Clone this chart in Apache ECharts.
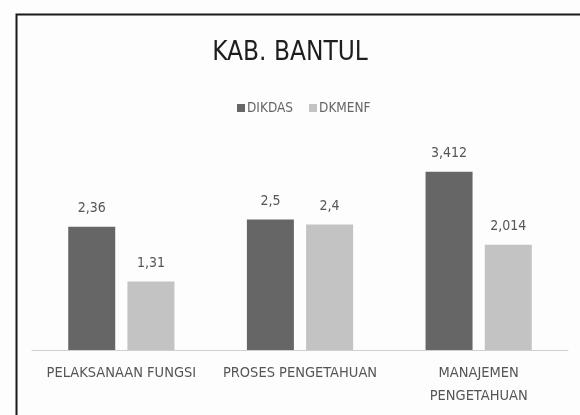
<!DOCTYPE html>
<html><head><meta charset="utf-8">
<script src="https://cdn.jsdelivr.net/npm/echarts@6/dist/echarts.min.js"></script>
<style>html,body{margin:0;padding:0;background:#fdfdfd}#c{width:580px;height:415px}</style>
</head><body><div id="c"></div>
<script>
var categories = ['PELAKSANAAN FUNGSI', 'PROSES PENGETAHUAN', 'MANAJEMEN\nPENGETAHUAN'];
var seriesNames = ['DIKDAS', 'DKMENF'];
var dikdas = [2.36, 2.5, 3.412];
var dkmenf = [1.31, 2.4, 2.014];
var titleText = 'KAB. BANTUL';

var FONT = '"Liberation Sans Narrow", "DejaVu Sans Condensed", "Liberation Sans", sans-serif';
function fmt(p){ return String(p.value).replace('.', ','); }

var chart = echarts.init(document.getElementById('c'), null, {renderer:'canvas'});
chart.setOption({
  backgroundColor: '#fdfdfd',
  animation: false,
  title: {
    text: titleText, left: 'center', top: 35,
    textStyle: {fontFamily: FONT, fontSize: 26, fontWeight: 'normal', color: '#1e1e1e'}
  },
  legend: {
    data: seriesNames, top: 96, left: 232,
    itemWidth: 8, itemHeight: 8, itemGap: 16, icon: 'rect',
    textStyle: {fontFamily: FONT, fontSize: 13.5, color: '#666', padding: [0,0,0,-3]}
  },
  grid: {left: 32, right: 12, top: 141, bottom: 65, containLabel: false},
  xAxis: {
    type: 'category', data: categories,
    axisLine: {show: true, lineStyle: {color: '#d0d0d0', width: 1}},
    axisTick: {show: false},
    axisLabel: {fontFamily: FONT, fontSize: 14.5, color: '#555', margin: 12, lineHeight: 23, interval: 0}
  },
  yAxis: {type: 'value', min: 0, max: 4, show: false, splitLine: {show: false}},
  series: [
    {name: seriesNames[0], type: 'bar', data: dikdas, barWidth: 47, barGap: '26%',
     itemStyle: {color: '#666666'},
     label: {show: true, position: 'top', distance: 11, formatter: fmt,
             fontFamily: FONT, fontSize: 14, color: '#555'}},
    {name: seriesNames[1], type: 'bar', data: dkmenf, barWidth: 47,
     itemStyle: {color: '#c3c3c3'},
     label: {show: true, position: 'top', distance: 11, formatter: fmt,
             fontFamily: FONT, fontSize: 14, color: '#555'}}
  ],
  graphic: [{
    type: 'rect', left: 14, top: 12,
    shape: {x: 0, y: 0, width: 600, height: 430},
    style: {fill: 'none', stroke: '#1a1a1a', lineWidth: 2}, silent: true, z: 100
  }]
});
</script></body></html>
